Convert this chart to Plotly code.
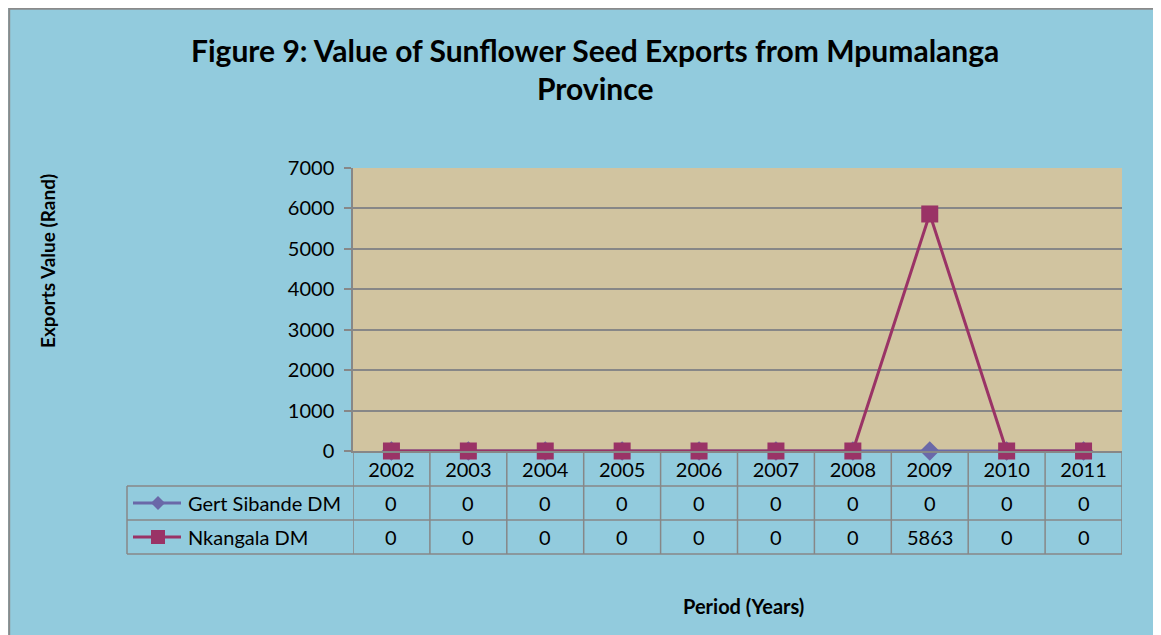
import plotly.graph_objects as go

years = ["2002", "2003", "2004", "2005", "2006", "2007", "2008", "2009", "2010", "2011"]
gert_sibande = [0, 0, 0, 0, 0, 0, 0, 0, 0, 0]
nkangala = [0, 0, 0, 0, 0, 0, 0, 5863, 0, 0]
series_names = ["Gert Sibande DM", "Nkangala DM"]
y_ticks = [0, 1000, 2000, 3000, 4000, 5000, 6000, 7000]

BLUE = "#92CBDD"
TAN = "#D1C4A0"
GRID = "#878787"
C_GERT = "#6A68A8"
C_NK = "#9A3366"
FONT = "Lato"

# The page body adds an 8px offset; work in page pixel coordinates.
OFF = 8
W, H = 1161 - OFF, 635 - OFF
L, R, T, B = 353, 1122, 168, 451   # plot area in page pixels
def px(x):
    return (x - L) / (R - L)
def py(y):
    return (B - y) / (B - T)

fig = go.Figure()
fig.add_trace(go.Scatter(x=years, y=gert_sibande, name=series_names[0], mode="lines+markers",
                         line=dict(color=C_GERT, width=3),
                         marker=dict(symbol="diamond", size=15, color=C_GERT),
                         cliponaxis=False))
fig.add_trace(go.Scatter(x=years, y=nkangala, name=series_names[1], mode="lines+markers",
                         line=dict(color=C_NK, width=3),
                         marker=dict(symbol="square", size=17, color=C_NK),
                         cliponaxis=False))

shapes = []
# gray border of the chart area
shapes.append(dict(type="line", xref="paper", yref="paper", x0=px(9), x1=px(1170), y0=py(8.8), y1=py(8.8),
                   line=dict(color="#8A8A8A", width=2), layer="below"))
shapes.append(dict(type="line", xref="paper", yref="paper", x0=px(9.2), x1=px(9.2), y0=py(8), y1=py(650),
                   line=dict(color="#8A8A8A", width=2), layer="below"))

row_lines = [486, 520, 554]
for ry in row_lines:
    shapes.append(dict(type="line", xref="paper", yref="paper", x0=px(127), x1=1, y0=py(ry), y1=py(ry),
                       line=dict(color=GRID, width=1.5), layer="below"))
shapes.append(dict(type="line", xref="paper", yref="paper", x0=px(127), x1=px(127), y0=py(486), y1=py(554),
                   line=dict(color=GRID, width=1.5), layer="below"))
for i in range(len(years) + 1):
    shapes.append(dict(type="line", xref="x", yref="paper", x0=i - 0.5, x1=i - 0.5, y0=0, y1=py(554),
                       line=dict(color=GRID, width=1.5), layer="below"))

# legend keys in the data table
key_y = [py(503), py(537)]
hh = 7 / (B - T)
shapes.append(dict(type="line", xref="paper", yref="paper", x0=px(133), x1=px(181), y0=key_y[0], y1=key_y[0],
                   line=dict(color=C_GERT, width=3), layer="above"))
shapes.append(dict(type="path", xref="paper", yref="paper",
                   path=f"M {px(151)},{key_y[0]} L {px(158)},{key_y[0]+hh} L {px(165)},{key_y[0]} L {px(158)},{key_y[0]-hh} Z",
                   fillcolor=C_GERT, line=dict(width=0), layer="above"))
shapes.append(dict(type="line", xref="paper", yref="paper", x0=px(133), x1=px(181), y0=key_y[1], y1=key_y[1],
                   line=dict(color=C_NK, width=3), layer="above"))
shapes.append(dict(type="rect", xref="paper", yref="paper", x0=px(151), x1=px(165),
                   y0=key_y[1] - hh, y1=key_y[1] + hh,
                   fillcolor=C_NK, line=dict(width=0), layer="above"))

annotations = []
for name, vals, ky in [(series_names[0], gert_sibande, key_y[0]), (series_names[1], nkangala, key_y[1])]:
    annotations.append(dict(text=name, xref="paper", yref="paper", x=px(186), y=ky, xanchor="left",
                            yanchor="middle", showarrow=False, font=dict(family=FONT, size=20, color="black")))
    for i, v in enumerate(vals):
        annotations.append(dict(text=str(v), xref="x", yref="paper", x=i, y=ky, xanchor="center",
                                yanchor="middle", showarrow=False, font=dict(family=FONT, size=20, color="black")))

annotations.append(dict(text="<b>Figure 9: Value of Sunflower Seed Exports from Mpumalanga</b>", xref="paper", yref="paper",
                        x=px(595), y=py(50), xanchor="center", yanchor="middle", showarrow=False,
                        font=dict(family=FONT, size=30, color="black")))
annotations.append(dict(text="<b>Province</b>", xref="paper", yref="paper",
                        x=px(595), y=py(88), xanchor="center", yanchor="middle", showarrow=False,
                        font=dict(family=FONT, size=30, color="black")))
annotations.append(dict(text="<b>Exports Value (Rand)</b>", xref="paper", yref="paper",
                        x=px(47), y=py(261), xanchor="center", yanchor="middle", textangle=-90, showarrow=False,
                        font=dict(family=FONT, size=19, color="black")))
annotations.append(dict(text="<b>Period (Years)</b>", xref="paper", yref="paper",
                        x=px(743), y=py(606), xanchor="center", yanchor="middle", showarrow=False,
                        font=dict(family=FONT, size=20, color="black")))

fig.update_layout(
    width=W, height=H,
    margin=dict(l=L - OFF, r=W - (R - OFF), t=T - OFF, b=H - (B - OFF), pad=0),
    paper_bgcolor=BLUE, plot_bgcolor=TAN,
    showlegend=False,
    shapes=shapes, annotations=annotations,
    xaxis=dict(type="category", range=[-0.5, len(years) - 0.5], showgrid=False, zeroline=False,
               showline=True, linecolor=GRID, linewidth=1.5, ticks="",
               tickfont=dict(family=FONT, size=20, color="black"), ticklabelstandoff=0, fixedrange=True),
    yaxis=dict(range=[0, 7000], tickvals=y_ticks, showgrid=True, gridcolor=GRID, gridwidth=1.5,
               zeroline=False, showline=True, linecolor=GRID, linewidth=1.5, ticks="outside", ticklen=7,
               tickcolor=GRID, tickwidth=1.5, ticklabelstandoff=6,
               tickfont=dict(family=FONT, size=20, color="black"), fixedrange=True),
)

fig.write_html("out.html")
